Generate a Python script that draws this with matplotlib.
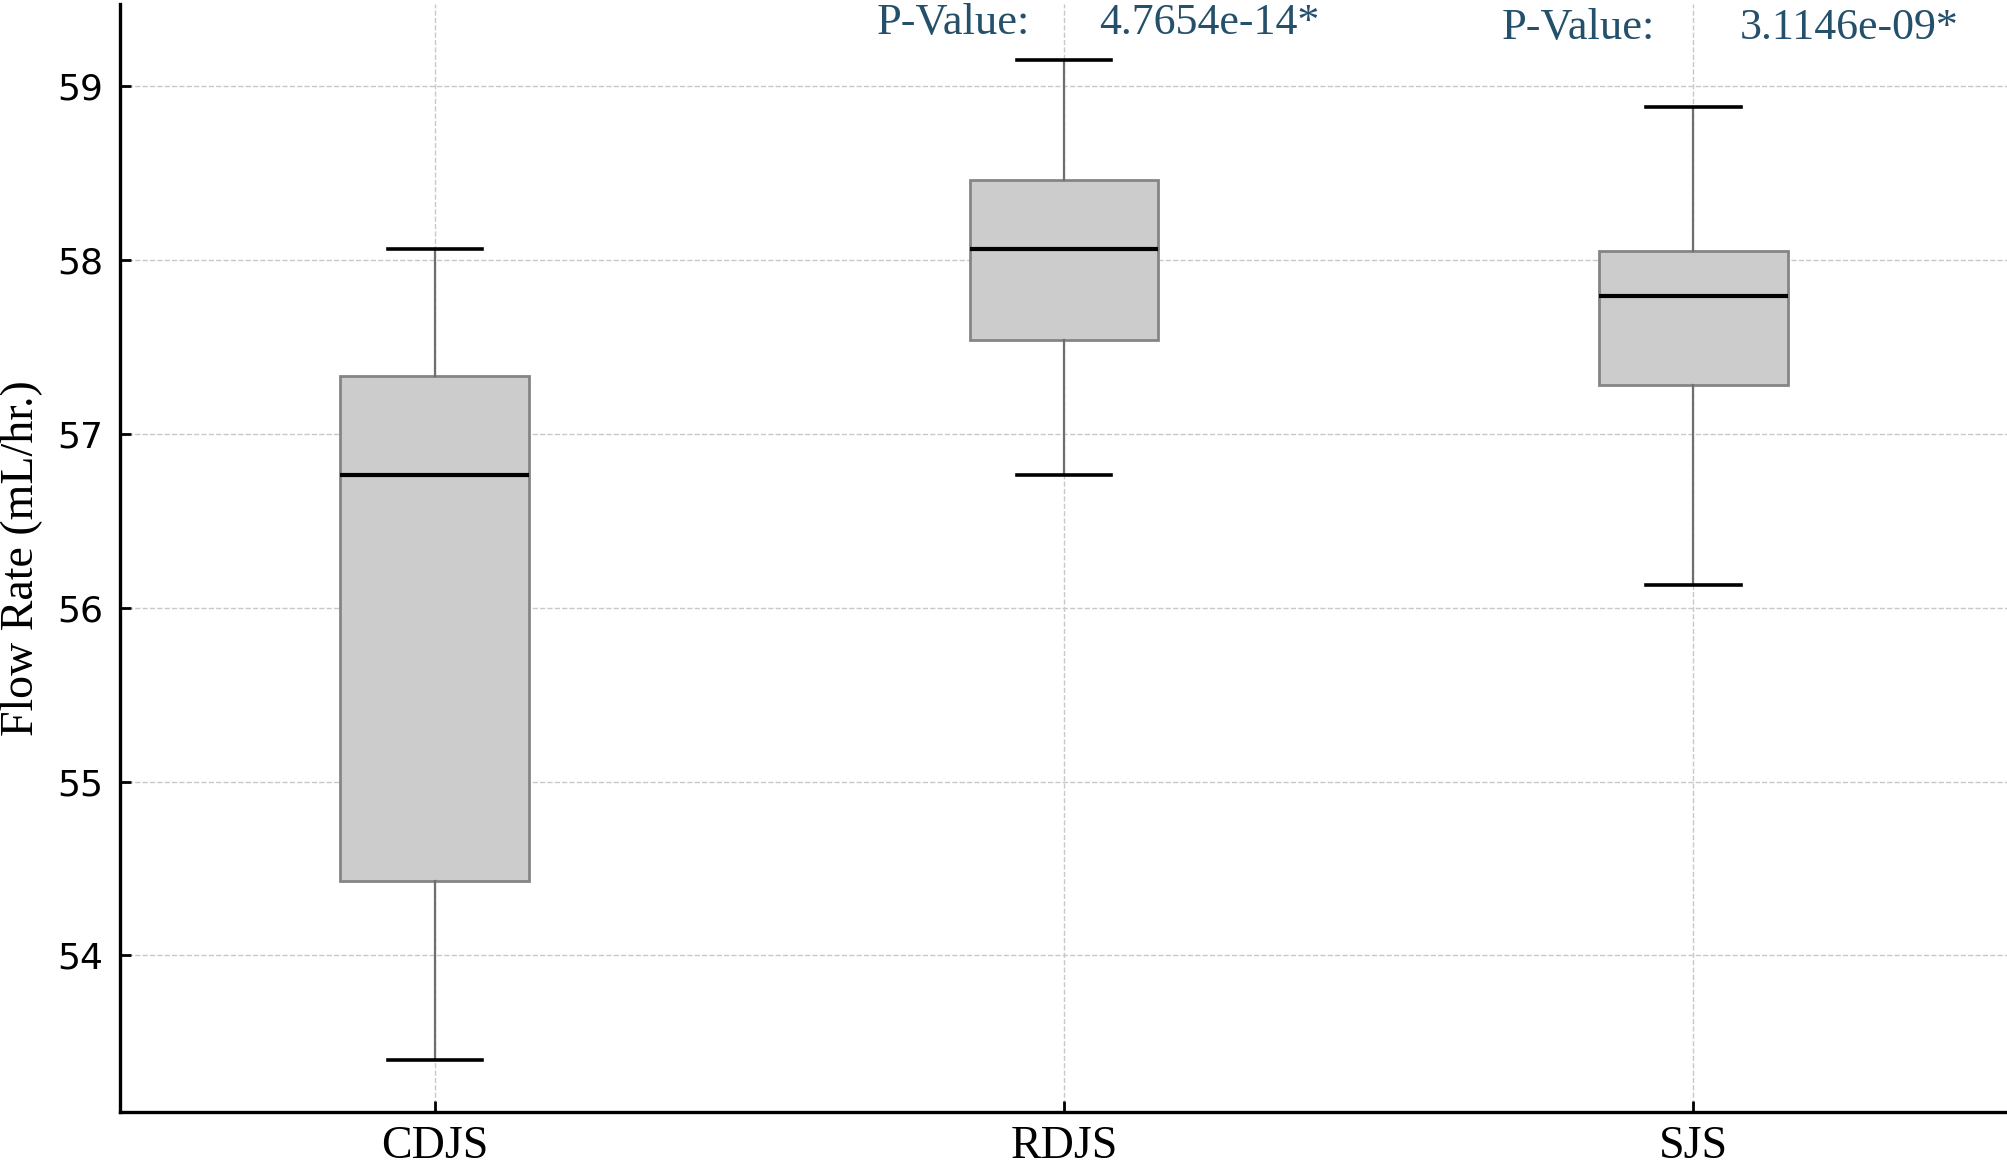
import matplotlib
matplotlib.use("Agg")
import matplotlib.pyplot as plt

# box statistics
groups = ["CDJS", "RDJS", "SJS"]
whislo = [53.40, 56.76, 56.13]
q1 = [54.43, 57.54, 57.28]
med = [56.76, 58.06, 57.79]
q3 = [57.33, 58.46, 58.05]
whishi = [58.06, 59.15, 58.88]

# p-values shown above the RDJS and SJS boxes
p_groups = ["RDJS", "SJS"]
p_values = ["4.7654e-14*", "3.1146e-09*"]

serif = "Liberation Serif"
text_col = "#24506b"

stats = []
for i, g in enumerate(groups):
    stats.append(dict(label=g, whislo=whislo[i], q1=q1[i], med=med[i],
                      q3=q3[i], whishi=whishi[i], fliers=[]))

fig = plt.figure(figsize=(10.04, 5.83), dpi=200)
ax = fig.add_axes([0.0598, 0.0463, 0.9402, 0.9503])

ax.bxp(stats, positions=[1, 2, 3], widths=0.3, patch_artist=True,
       boxprops=dict(facecolor="#cccccc", edgecolor="#858585", linewidth=1.0),
       medianprops=dict(color="black", linewidth=1.5),
       whiskerprops=dict(color="#6e6e6e", linewidth=0.8),
       capprops=dict(color="black", linewidth=1.3))

ax.set_xlim(0.5, 3.5)
ax.set_ylim(53.10, 59.47)
ax.set_yticks([54, 55, 56, 57, 58, 59])

ax.grid(True, linestyle="--", color="#c8c8c8", linewidth=0.5)
ax.set_axisbelow(True)

for s in ["top", "right"]:
    ax.spines[s].set_visible(False)
for s in ["left", "bottom"]:
    ax.spines[s].set_linewidth(1.2)

ax.tick_params(direction="in", length=4, width=1.0)
ax.tick_params(axis="y", labelsize=13, pad=6)
for lab in ax.get_yticklabels():
    lab.set_family("DejaVu Sans")
ax.set_xticks([1, 2, 3])
ax.set_xticklabels(groups, fontsize=16.5, family=serif)
ax.tick_params(axis="x", pad=5)

ax.set_ylabel("Flow Rate (mL/hr.)", fontsize=16.5, family=serif, labelpad=5)

# p-value annotations
label_x = [1.703, 2.696]
value_x = [2.056, 3.074]
text_y = [59.36, 59.33]
for i, g in enumerate(p_groups):
    ax.text(label_x[i], text_y[i], "P-Value:", fontsize=16, family=serif,
            color=text_col, ha="left", va="center")
    ax.text(value_x[i], text_y[i], p_values[i], fontsize=15.8, family=serif,
            color=text_col, ha="left", va="center")

fig.savefig("out.png", dpi=200)
